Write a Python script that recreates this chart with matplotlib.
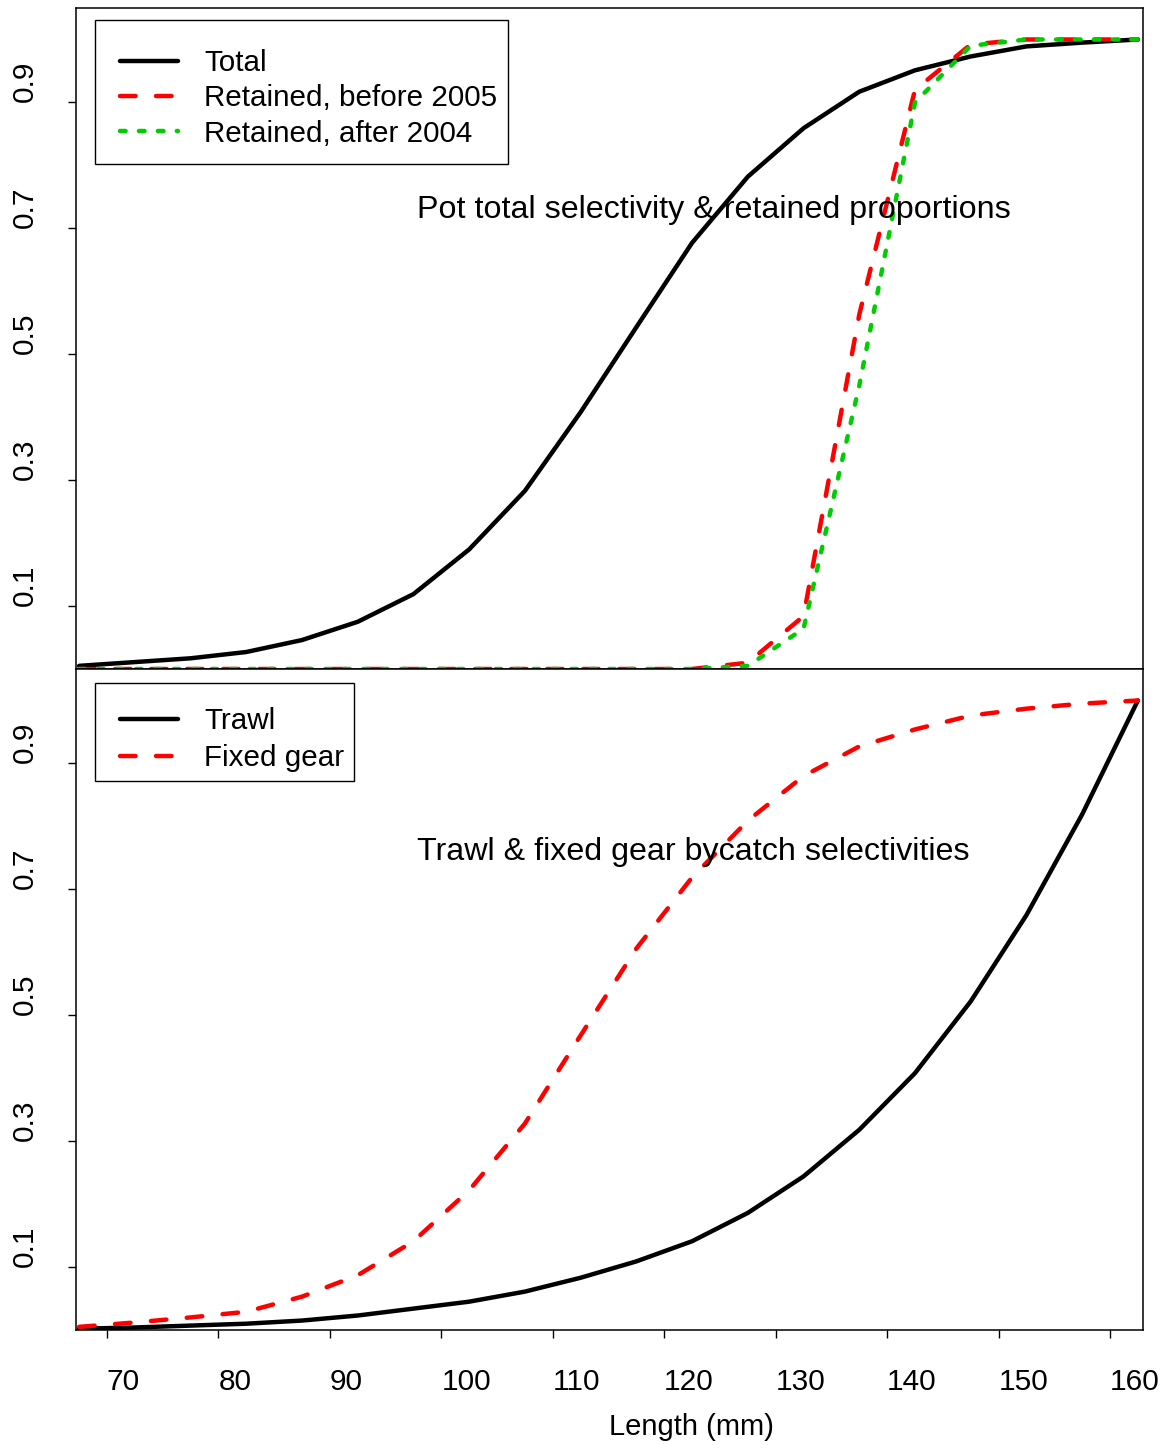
import matplotlib
matplotlib.use("Agg")
import matplotlib.pyplot as plt
from matplotlib.patches import Rectangle

plt.rcParams["font.family"] = ["Liberation Sans", "DejaVu Sans"]

# Length classes (mm), midpoints of 5 mm bins
length_mm = [67.5, 72.5, 77.5, 82.5, 87.5, 92.5, 97.5, 102.5, 107.5, 112.5,
             117.5, 122.5, 127.5, 132.5, 137.5, 142.5, 147.5, 152.5, 157.5, 162.5]

# Pot fishery: total selectivity and retained proportions
pot_total = [0.005, 0.011, 0.017, 0.027, 0.046, 0.075, 0.119, 0.190, 0.283, 0.408,
             0.543, 0.677, 0.782, 0.859, 0.917, 0.951, 0.973, 0.989, 0.995, 1.000]
retained_before_2005 = [0.0, 0.0, 0.0, 0.0, 0.0, 0.0, 0.0, 0.0, 0.0, 0.0,
                        0.0, 0.0, 0.010, 0.084, 0.563, 0.920, 0.992, 1.000, 1.000, 1.000]
retained_after_2004 = [0.0, 0.0, 0.0, 0.0, 0.0, 0.0, 0.0, 0.0, 0.0, 0.0,
                       0.0, 0.0, 0.005, 0.064, 0.450, 0.900, 0.990, 1.000, 1.000, 1.000]

# Bycatch selectivities
trawl = [0.002, 0.004, 0.007, 0.010, 0.015, 0.023, 0.034, 0.045, 0.061, 0.083,
         0.109, 0.141, 0.186, 0.244, 0.318, 0.408, 0.522, 0.659, 0.819, 1.000]
fixed_gear = [0.005, 0.012, 0.020, 0.029, 0.053, 0.087, 0.141, 0.222, 0.328, 0.468,
              0.606, 0.719, 0.809, 0.880, 0.927, 0.954, 0.976, 0.987, 0.995, 1.000]

x_ticks = [70, 80, 90, 100, 110, 120, 130, 140, 150, 160]
y_ticks = [0.1, 0.3, 0.5, 0.7, 0.9]
y_tick_labels = ["0.1", "0.3", "0.5", "0.7", "0.9"]

W, H = 1169, 1445
FS_TICK = 21.5
FS_LEG = 21.3
FS_TITLE = 23.2
FS_XLAB = 21.0
LW = 3.2
DASHED = (3.5, 4.6)
DOTTED = (1.26, 3.0)

fig = plt.figure(figsize=(W / 100, H / 100), dpi=100)
ax_top = fig.add_axes([76 / W, 1 - 669 / H, (1143 - 76) / W, (669 - 8) / H])
ax_bot = fig.add_axes([76 / W, 1 - 1330 / H, (1143 - 76) / W, (1330 - 669) / H])

for ax in (ax_top, ax_bot):
    ax.set_xlim(67.22, 162.96)
    ax.set_ylim(0, 1.05)
    for sp in ax.spines.values():
        sp.set_linewidth(1.1)
        sp.set_color("black")
    ax.set_yticks(y_ticks)
    ax.set_yticklabels(y_tick_labels, rotation=90, va="bottom", ha="right", fontsize=FS_TICK)
    ax.tick_params(axis="y", direction="out", length=5.5, width=1, pad=21)
    ax.set_xticks(x_ticks)

ax_top.tick_params(axis="x", bottom=False, labelbottom=False)
ax_bot.set_xticklabels([str(v) for v in x_ticks], ha="left", fontsize=FS_TICK)
ax_bot.tick_params(axis="x", direction="out", length=5.5, width=1, pad=22)

# Top panel: pot selectivity and retention
l_tot, = ax_top.plot(length_mm, pot_total, color="black", lw=LW,
                     solid_capstyle="round", solid_joinstyle="round", label="Total")
l_bef, = ax_top.plot(length_mm, retained_before_2005, color="#ff0000", lw=LW,
                     dashes=DASHED, dash_capstyle="round", dash_joinstyle="round",
                     label="Retained, before 2005")
l_aft, = ax_top.plot(length_mm, retained_after_2004, color="#00cc00", lw=LW,
                     dashes=DOTTED, dash_capstyle="round", dash_joinstyle="round",
                     label="Retained, after 2004")

# Bottom panel: bycatch selectivities
l_trw, = ax_bot.plot(length_mm, trawl, color="black", lw=LW,
                     solid_capstyle="round", solid_joinstyle="round", label="Trawl")
l_fix, = ax_bot.plot(length_mm, fixed_gear, color="#ff0000", lw=LW,
                     dashes=DASHED, dash_capstyle="round", dash_joinstyle="round",
                     label="Fixed gear")


def px_box(ax, x0, y0, x1, y1):
    """Legend frame given in figure pixel coordinates (top-left origin)."""
    rect = Rectangle((x0 / W, 1 - y1 / H), (x1 - x0) / W, (y1 - y0) / H,
                     transform=fig.transFigure, facecolor="white",
                     edgecolor="black", lw=1.0, zorder=4)
    ax.add_artist(rect)
    rect.set_clip_on(False)


px_box(ax_top, 95, 20, 508, 164)
px_box(ax_bot, 95, 683, 354, 781)

leg_kw = dict(loc="upper left", borderaxespad=0, fontsize=FS_LEG, handlelength=1.95,
              handletextpad=0.9, borderpad=0.0, frameon=False)
leg1 = ax_top.legend(handles=[l_tot, l_bef, l_aft], labelspacing=0.25,
                     bbox_to_anchor=((120 - 76) / 1067, 1 - (49 - 8) / 661), **leg_kw)
leg2 = ax_bot.legend(handles=[l_trw, l_fix], labelspacing=0.3,
                     bbox_to_anchor=((120 - 76) / 1067, 1 - (707 - 669) / 661), **leg_kw)
for lg in (leg1, leg2):
    lg.set_zorder(5)

ax_top.text(97.8, 0.729, "Pot total selectivity & retained proportions",
            ha="left", va="center", fontsize=FS_TITLE)
ax_bot.text(97.8, 0.760, "Trawl & fixed gear bycatch selectivities",
            ha="left", va="center", fontsize=FS_TITLE)

fig.text(609 / W, 1 - 1427 / H, "Length (mm)", ha="left", va="center", fontsize=FS_XLAB)

fig.savefig("out.png", dpi=100)
